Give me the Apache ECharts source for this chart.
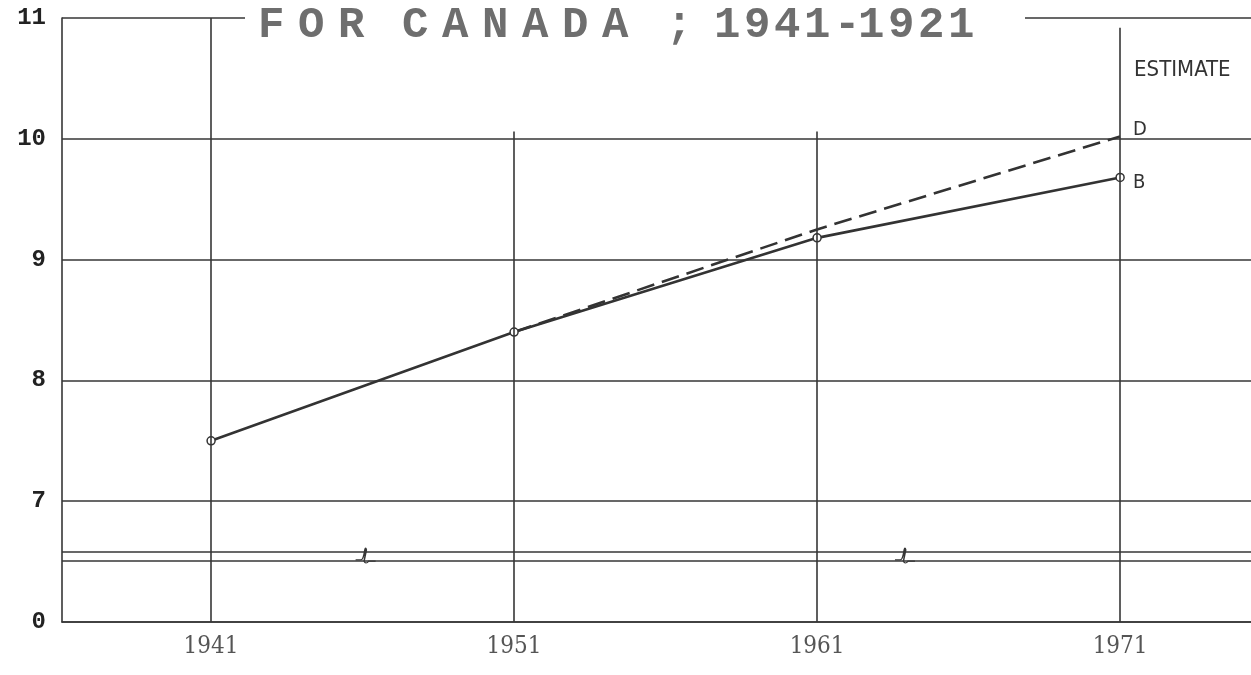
<!DOCTYPE html>
<html>
<head>
<meta charset="utf-8">
<script src="https://cdn.jsdelivr.net/npm/echarts@6/dist/echarts.min.js"></script>
<style>
  html, body { margin: 0; padding: 0; background: #ffffff; }
  #chart { width: 1251px; height: 675px; }
</style>
</head>
<body>
<div id="chart"></div>
<script>
// ---- data ----
const years = [1941, 1951, 1961, 1971];
const seriesB = [7.5, 8.4, 9.18, 9.68];          // solid line, circles
const seriesDYears = [1951, 1961, 1971];
const seriesD = [8.4, 9.25, 10.02];               // dashed estimate
const yTickValues = [6, 7, 8, 9, 10, 11];
const yTickLabels = ['0', '7', '8', '9', '10', '11']; // 6 stands for the broken-axis "0"
const titleText = 'FOR CANADA ; 1941-1921';
const verticalTops = [11, 10.06, 10.06, 10.92];   // how far each year rule reaches up
const breakLevels = [6.58, 6.51];                 // the two broken-axis rules
const breakMarks = [1946.1, 1963.9];              // squiggles on the break
const estimateLevel = 10.57;

const INK = '#363636';
const SANS_NARROW = '"DejaVu Sans Condensed", "Liberation Sans Narrow", "DejaVu Sans", sans-serif';
const SERIF_NARROW = '"DejaVu Serif Condensed", "DejaVu Serif", serif';

function richTitle(str) {
  return str.split('').map(function (ch) {
    let k = 'P';
    if (/[A-Z]/.test(ch)) k = 'L';
    else if (/[0-9]/.test(ch)) k = 'N';
    else if (ch === ' ') k = 'S';
    return '{' + k + '|' + ch + '}';
  }).join('');
}
const titleFont = {
  fontFamily: 'Liberation Mono', fontSize: 44, fontWeight: 'bold', color: '#6e6e6e', lineHeight: 48
};

const chart = echarts.init(document.getElementById('chart'), null, { renderer: 'canvas' });

const option = {
  backgroundColor: '#ffffff',
  animation: false,
  title: {
    text: richTitle(titleText),
    left: 245,
    top: 0,
    padding: [2, 47, 2, 13],
    backgroundColor: '#ffffff',
    textStyle: {
      rich: {
        L: Object.assign({ width: 40 }, titleFont),
        N: Object.assign({ width: 30 }, titleFont),
        P: Object.assign({ width: 24 }, titleFont),
        S: Object.assign({ width: 24 }, titleFont)
      }
    }
  },
  grid: { left: 62, right: 0, top: 18, bottom: 53 },
  xAxis: {
    type: 'value',
    min: 1936.08,
    max: 1975.32,
    axisLine: { show: true, onZero: false, lineStyle: { color: INK, width: 1.6 } },
    axisTick: { show: false },
    splitLine: { show: false },
    axisLabel: {
      customValues: years,
      formatter: function (v) { return String(v); },
      fontFamily: SERIF_NARROW,
      fontSize: 24,
      color: '#555',
      margin: 13
    }
  },
  yAxis: {
    type: 'value',
    min: 6,
    max: 11,
    interval: 1,
    axisLine: { show: true, lineStyle: { color: INK, width: 1.6 } },
    axisTick: { show: false },
    splitLine: { show: true, lineStyle: { color: INK, width: 1.5 } },
    axisLabel: {
      formatter: function (v) {
        const i = yTickValues.indexOf(v);
        return i >= 0 ? yTickLabels[i] : '';
      },
      fontFamily: 'Liberation Mono',
      fontWeight: 'bold',
      fontSize: 24,
      color: '#222',
      align: 'right',
      margin: 16
    }
  },
  series: [
    {
      name: 'frame',
      type: 'line',
      z: 1,
      data: [],
      silent: true,
      markLine: {
        silent: true,
        symbol: ['none', 'none'],
        label: { show: false },
        lineStyle: { color: INK, width: 1.6, type: 'solid' },
        data: years.map(function (yr, i) {
          return [{ coord: [yr, verticalTops[i]] }, { coord: [yr, 6] }];
        }).concat(breakLevels.map(function (lv) {
          return { yAxis: lv };
        }))
      },
      markPoint: {
        silent: true,
        symbol: 'path://M0,11 L7,11 Q10,11 12,3 Q13,0 14,3 L11,12 Q13,15 17,12 L26,12',
        symbolSize: [20, 15],
        itemStyle: { color: 'rgba(0,0,0,0)', borderColor: INK, borderWidth: 1.3 },
        label: { show: false },
        data: breakMarks.map(function (x) { return { coord: [x, 6.55] }; })
      }
    },
    {
      name: 'D',
      type: 'line',
      z: 3,
      data: seriesDYears.map(function (yr, i) { return [yr, seriesD[i]]; }),
      showSymbol: false,
      symbol: 'none',
      lineStyle: { color: '#333', width: 2.6, type: [18, 8] },
      endLabel: {
        show: true,
        formatter: 'D',
        distance: 13,
        offset: [0, -7],
        fontFamily: SANS_NARROW,
        fontSize: 20,
        color: '#333'
      },
      markPoint: {
        silent: true,
        symbol: 'circle',
        symbolSize: 0,
        data: [{
          coord: [years[3], estimateLevel],
          label: {
            show: true,
            formatter: 'ESTIMATE',
            position: 'right',
            distance: 14,
            fontFamily: SANS_NARROW,
            fontSize: 22,
            color: '#333'
          }
        }]
      }
    },
    {
      name: 'B',
      type: 'line',
      z: 4,
      data: years.map(function (yr, i) { return [yr, seriesB[i]]; }),
      symbol: 'circle',
      symbolSize: 8,
      itemStyle: { color: '#ffffff', borderColor: '#333', borderWidth: 1.5 },
      lineStyle: { color: '#333', width: 2.6 },
      endLabel: {
        show: true,
        formatter: 'B',
        distance: 13,
        offset: [0, 5],
        fontFamily: SANS_NARROW,
        fontSize: 20,
        color: '#333'
      }
    }
  ]
};

chart.setOption(option);
</script>
</body>
</html>
